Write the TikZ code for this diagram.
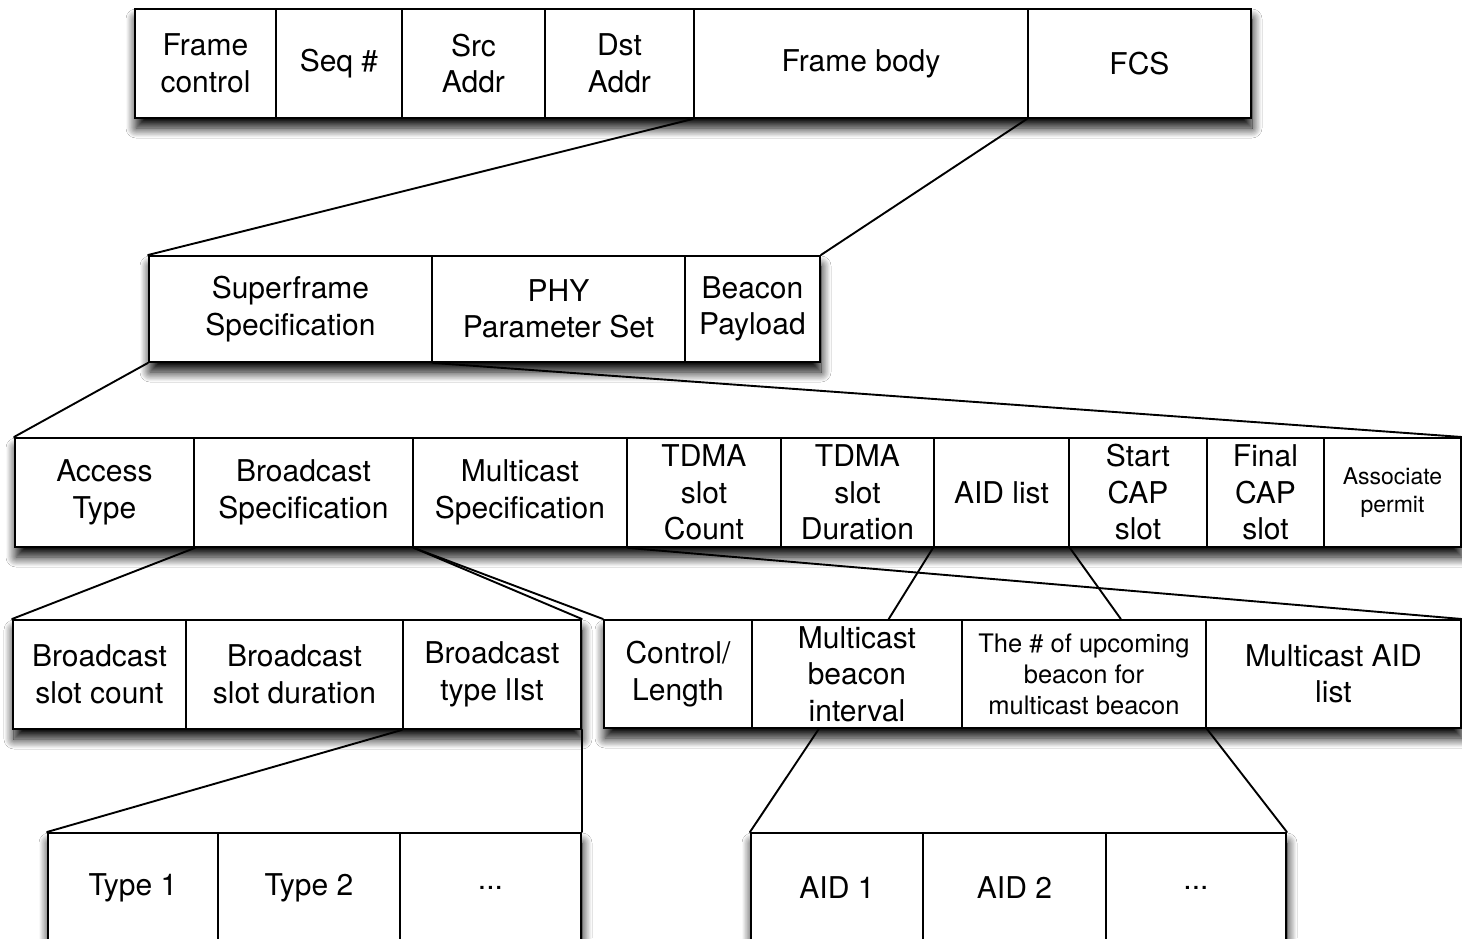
\documentclass[tikz,border=0pt]{standalone}
\usepackage{fontspec}
\setmainfont{TeX Gyre Heros}
\usetikzlibrary{shadows.blur,calc}
\tikzset{
  cell/.style={draw=black, line width=1.9pt, anchor=north west, inner sep=0pt,
    align=center, text=black, font=\fontsize{30}{36.5}\selectfont},
  smalltext/.style={font=\fontsize{23}{28}\selectfont},
  midtext/.style={font=\fontsize{25.5}{31}\selectfont},
  wh/.style 2 args={minimum width=#1pt, minimum height=#2pt},
  link/.style={draw=black, line width=1.9pt, line cap=round},
  rowshadow/.style={fill=white, blur shadow={shadow xshift=2pt, shadow yshift=-11pt,
    shadow blur radius=10pt, shadow blur steps=16, shadow opacity=100}},
}
\begin{document}
\begin{tikzpicture}[x=1pt,y=-1pt]
\useasboundingbox (0,0) rectangle (1462,938);
\clip (0,0) rectangle (1462,938);
\fill[white] (0,0) rectangle (1462,938);

% row shadows
\path[rowshadow] (134,8) rectangle (1250,117);
\path[rowshadow] (148,255) rectangle (819,361);
\path[rowshadow] (14,437) rectangle (1460,546);
\path[rowshadow] (12,619) rectangle (580,728);
\path[rowshadow] (603,619) rectangle (1460,727);
\path[rowshadow] (47,832) rectangle (580,960);
\path[rowshadow] (750,832) rectangle (1285,960);

% row 1
\node[cell, wh={141}{109}] (fc)  at (134,8)  {Frame\\control};
\node[cell, wh={126}{109}] (seq) at (275,8)  {Seq \#};
\node[cell, wh={143}{109}] (src) at (401,8)  {Src\\Addr};
\node[cell, wh={149}{109}] (dst) at (544,8)  {Dst\\Addr};
\node[cell, wh={334}{109}] (fb)  at (693,8)  {Frame body};
\node[cell, wh={223}{109}] (fcs) at (1027,8) {FCS};

% row 2
\node[cell, wh={283}{106}] (sf)  at (148,255) {Superframe\\Specification};
\node[cell, wh={253}{106}] (phy) at (431,255) {PHY\\Parameter Set};
\node[cell, wh={135}{106}] (bp)  at (684,255) {Beacon\\Payload};

% row 3
\node[cell, wh={179}{109}] (at)   at (14,437)   {Access\\Type};
\node[cell, wh={219}{109}] (bs)   at (193,437)  {Broadcast\\Specification};
\node[cell, wh={214}{109}] (ms)   at (412,437)  {Multicast\\Specification};
\node[cell, wh={154}{109}] (tc)   at (626,437)  {TDMA\\slot\\Count};
\node[cell, wh={153}{109}] (td)   at (780,437)  {TDMA\\slot\\Duration};
\node[cell, wh={135}{109}] (aid)  at (933,437)  {AID list};
\node[cell, wh={138}{109}] (scap) at (1068,437) {Start\\CAP\\slot};
\node[cell, wh={117}{109}] (fcap) at (1206,437) {Final\\CAP\\slot};
\node[cell, wh={137}{109}, smalltext] (ap) at (1323,437) {Associate\\permit};

% row 4 left
\node[cell, wh={173}{109}] (bsc) at (12,619)  {Broadcast\\slot count};
\node[cell, wh={217}{109}] (bsd) at (185,619) {Broadcast\\slot duration};
\node[cell, wh={178}{109}] (btl) at (402,619) {Broadcast\\type lIst};

% row 4 right
\node[cell, wh={148}{108}] (cl)  at (603,619)  {Control/\\Length};
\node[cell, wh={210}{108}] (mbi) at (751,619)  {Multicast\\beacon\\interval};
\node[cell, wh={244}{108}, midtext] (up) at (961,619) {The \# of upcoming\\beacon for\\multicast beacon};
\node[cell, wh={255}{108}] (mal) at (1205,619) {Multicast AID\\list};

% row 5 left
\node[cell, wh={170}{110}] (t1)    at (47,832)  {Type 1};
\node[cell, wh={182}{110}] (t2)    at (217,832) {Type 2};
\node[cell, wh={181}{110}] (tdots) at (399,832) {...};

% row 5 right
\node[cell, wh={172}{110}] (a1)    at (750,832)  {AID 1};
\node[cell, wh={183}{110}] (a2)    at (922,832)  {AID 2};
\node[cell, wh={180}{110}] (adots) at (1105,832) {...};

% connectors
\draw[link] (fb.south west) -- (sf.north west);
\draw[link] (fcs.south west) -- (bp.north east);
\draw[link] (sf.south west) -- (at.north west);
\draw[link] (sf.south east) -- (ap.north east);
\draw[link] (at.south east) -- (bsc.north west);
\draw[link] (bs.south east) -- (btl.north east);
\draw[link] (bs.south east) -- (cl.north west);
\draw[link] (ms.south east) -- (mal.north east);
\draw[link] (aid.south west) -- ($(mbi.north west)!0.65!(mbi.north east)$);
\draw[link] (aid.south east) -- ($(up.north west)!0.65!(up.north east)$);
\draw[link] (btl.south west) -- (t1.north west);
\draw[link] (btl.south east) -- (tdots.north east);
\draw[link] ($(mbi.south west)!0.32!(mbi.south east)$) -- (a1.north west);
\draw[link] (up.south east) -- (adots.north east);
\end{tikzpicture}
\end{document}
